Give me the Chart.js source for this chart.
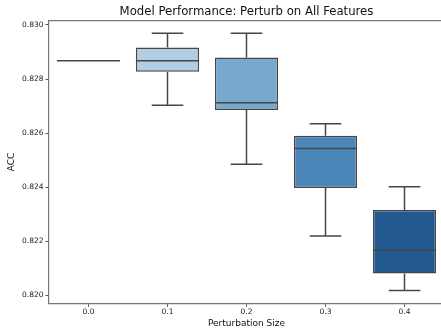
<!DOCTYPE html>
<html>
<head>
<meta charset="utf-8">
<script src="https://cdn.jsdelivr.net/npm/chart.js@4/dist/chart.umd.min.js"></script>
<style>
  html, body { margin: 0; padding: 0; background: #fff; overflow: hidden; }
  #wrap { width: 441px; height: 329px; overflow: hidden; }
</style>
</head>
<body>
<div id="wrap"><canvas id="perturb" width="444" height="329"></canvas></div>
<script>
// box stats per perturbation size
var sizes   = ["0.0", "0.1", "0.2", "0.3", "0.4"];
var mins    = [0.82868, 0.82703, 0.82485, 0.82219, 0.82017];
var q1s     = [0.82868, 0.82827, 0.82685, 0.82397, 0.82080];
var medians = [0.82868, 0.82868, 0.82712, 0.82543, 0.82166];
var q3s     = [0.82868, 0.82917, 0.82880, 0.82590, 0.82315];
var maxs    = [0.82868, 0.82969, 0.82969, 0.82634, 0.82401];
var boxColors = ["#d0e1f0", "#b3cee3", "#77a9cd", "#4a87b8", "#22598f"];

var lineGray = '#474747';
var fontFam = '"DejaVu Sans", sans-serif';

var boxes = sizes.map(function (s, i) { return [q1s[i], q3s[i]]; });

// whiskers, caps, medians and the top spine
var whiskerPlugin = {
  id: 'whiskers',
  afterDatasetsDraw: function (chart) {
    var ctx = chart.ctx;
    var y = chart.scales.y;
    var meta = chart.getDatasetMeta(0);
    ctx.save();
    ctx.strokeStyle = lineGray;
    ctx.lineWidth = 1.5;
    meta.data.forEach(function (bar, i) {
      var cx = bar.x, half = bar.width / 2, cap = bar.width / 4;
      ctx.beginPath();
      // lower whisker + cap
      ctx.moveTo(cx, y.getPixelForValue(q1s[i]));
      ctx.lineTo(cx, y.getPixelForValue(mins[i]));
      ctx.moveTo(cx - cap, y.getPixelForValue(mins[i]));
      ctx.lineTo(cx + cap, y.getPixelForValue(mins[i]));
      // upper whisker + cap
      ctx.moveTo(cx, y.getPixelForValue(q3s[i]));
      ctx.lineTo(cx, y.getPixelForValue(maxs[i]));
      ctx.moveTo(cx - cap, y.getPixelForValue(maxs[i]));
      ctx.lineTo(cx + cap, y.getPixelForValue(maxs[i]));
      // median
      ctx.moveTo(cx - half, y.getPixelForValue(medians[i]));
      ctx.lineTo(cx + half, y.getPixelForValue(medians[i]));
      ctx.stroke();
    });
    var a = chart.chartArea;
    ctx.strokeStyle = '#777';
    ctx.lineWidth = 1.2;
    ctx.beginPath();
    ctx.moveTo(a.left, a.top);
    ctx.lineTo(chart.width, a.top);
    ctx.stroke();
    ctx.restore();
  }
};

var ctx = document.getElementById('perturb').getContext('2d');
var chart = new Chart(ctx, {
  type: 'bar',
  data: {
    labels: sizes,
    datasets: [{
      data: boxes,
      backgroundColor: boxColors,
      borderColor: lineGray,
      borderWidth: 1.5,
      borderSkipped: false,
      categoryPercentage: 0.8,
      barPercentage: 1.0
    }]
  },
  options: {
    responsive: false,
    animation: false,
    devicePixelRatio: 1,
    layout: { padding: { left: 0, right: 0, top: 0, bottom: 0 } },
    plugins: {
      legend: { display: false },
      tooltip: { enabled: false },
      title: {
        display: true,
        fullSize: false,
        text: 'Model Performance: Perturb on All Features',
        color: '#111',
        font: { family: fontFam, size: 11.7, weight: 'normal' },
        padding: { top: 5, bottom: 1.6 }
      }
    },
    scales: {
      x: {
        afterFit: function (scale) { scale.height = 25.7; },
        grid: { offset: false, drawOnChartArea: false, tickLength: 3.5, tickColor: '#555' },
        border: { display: true, color: '#777', width: 1.2 },
        ticks: { color: '#222', padding: 0.5, font: { family: fontFam, size: 7.5 } },
        title: {
          display: true,
          text: 'Perturbation Size',
          color: '#111',
          font: { family: fontFam, size: 9 },
          padding: { top: 0, bottom: 0 }
        }
      },
      y: {
        min: 0.81970,
        max: 0.83016,
        afterFit: function (scale) { scale.width = 49; },
        grid: { drawOnChartArea: false, tickLength: 3.5, tickColor: '#555' },
        border: { display: true, color: '#777', width: 1.2 },
        ticks: {
          stepSize: 0.002,
          includeBounds: false,
          color: '#222',
          padding: 2,
          font: { family: fontFam, size: 7.5 },
          callback: function (v) { return v.toFixed(3); }
        },
        title: {
          display: true,
          text: 'ACC',
          color: '#111',
          font: { family: fontFam, size: 9 },
          padding: { top: 6, bottom: 0 }
        }
      }
    }
  },
  plugins: [whiskerPlugin]
});
</script>
</body>
</html>
